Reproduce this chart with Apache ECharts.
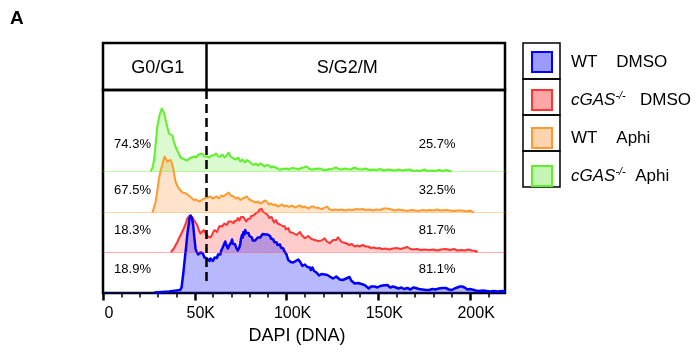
<!DOCTYPE html>
<html><head><meta charset="utf-8">
<script src="https://cdn.jsdelivr.net/npm/echarts@6/dist/echarts.min.js"></script>
<style>html,body{margin:0;padding:0;background:#fff}#c{width:700px;height:356px}</style>
</head><body><div id="c"></div>
<script>
const FONT = '"Liberation Sans", Arial, Helvetica, sans-serif';

// ---- data ----
const xMajorTicks = [0, 50, 100, 150, 200];           // K
const xMinorTicks = [10,20,30,40,60,70,80,90,110,120,130,140,160,170,180,190,210];
const gateK = 56.5;
const phaseLabels = ['G0/G1', 'S/G2/M'];
const phaseLabelX = [29.8, 133];
const seriesNames = ['WT DMSO', 'cGAS-/- DMSO', 'WT Aphi', 'cGAS-/- Aphi'];
const g1Pct = ['18.9%', '18.3%', '67.5%', '74.3%'];
const sPct  = ['81.1%', '81.7%', '32.5%', '25.7%'];
const pctLabelX = [16.1, 182];

const wtDmso = [[28,0],[32,0.5],[36,1],[38,1.5],[40,2],[42,2.5],[42.8,5],[43.2,11],[43.8,20],[44.4,31],[45.2,44],[45.9,57.5],[46.6,67],[47.1,74],[47.7,77],[48,77.5],[48.5,74],[49.1,67.5],[49.7,56],[50.4,44],[50.9,41],[51.3,42],[51.8,38],[52.2,39.5],[52.7,37],[53.1,40],[53.6,38],[54,42],[54.4,39],[54.9,37],[55.3,35],[55.8,36],[56.2,33],[56.7,34],[57.1,32],[57.6,33.5],[58,31.5],[58.5,34],[59,32],[59.4,33],[59.9,31.5],[60.3,33],[60.8,35],[61.2,33.5],[61.7,36],[62.1,34.5],[62.6,38],[63,36.5],[63.5,39.5],[63.9,38],[64.4,42],[64.8,40],[65.2,45],[65.7,47],[66.1,44.5],[66.6,51],[67,48.5],[67.5,47],[68,44],[68.4,45],[68.9,47.5],[69.3,46],[69.8,50],[70.3,53],[70.7,49],[71.1,51],[71.6,47],[72,48],[72.5,45],[72.9,44],[73.4,42],[73.8,41.5],[74.3,45],[74.8,49],[75.2,54],[75.7,57.5],[76.1,55],[76.5,60.5],[77,58],[77.5,62.5],[77.9,59.5],[78.4,61],[78.8,58],[79.3,59.5],[79.8,56.5],[80.2,57],[80.7,54.5],[81.1,55],[81.6,52],[82,53],[82.5,50.5],[82.9,52],[83.4,54],[83.8,52.5],[84.3,55],[84.7,54],[85.2,56],[85.6,55],[86.1,57],[86.5,56],[87,58.5],[87.4,57],[87.9,59],[88.3,58],[88.8,60],[89.2,59],[89.7,58],[90.1,58.5],[90.6,56],[91,56.5],[91.5,54],[91.9,55],[92.4,52],[92.8,53],[93.3,50.5],[93.7,51.5],[94.2,49],[94.6,50],[95,47.5],[95.5,48.5],[96,46.5],[96.4,48],[96.9,45],[97.3,45.5],[97.8,43],[98.2,44],[98.7,41.5],[99.1,43],[99.6,40],[100,38],[100.9,32.5],[101.4,34],[101.8,33],[102.3,30.5],[102.8,31.5],[103.2,29],[103.6,30],[104.1,28],[104.5,29],[105,31.5],[105.4,31],[105.9,33.5],[106.4,33],[106.8,31],[107.3,32.5],[107.8,29.5],[108.2,28],[108.6,26.5],[109,26],[109.5,28.5],[110,28],[110.4,26],[110.9,27],[111.3,25.5],[111.8,27.5],[112.2,24.5],[112.7,25],[113.2,22.5],[113.6,23],[114.1,25],[114.5,24],[115,21.5],[115.4,22],[115.9,20.5],[116.3,20],[116.8,18.5],[117.2,19],[117.7,17],[118.1,18],[119,18.5],[119.9,17.5],[120.8,18],[121.3,20],[121.7,19],[122.2,17.5],[122.6,19],[123.1,16.5],[123.5,16],[124.4,15],[125.3,14],[126.2,15],[127.1,16],[128,15.5],[129,13],[130,13.5],[130.7,12.5],[131.5,13],[132.5,14],[133.4,15.5],[134.3,15.5],[135.2,12],[136.2,10],[137.1,9],[138,10.5],[139,9.5],[139.8,10.5],[140.8,8.5],[141.5,7.5],[142.5,7.5],[143.4,6],[144.8,4],[146,6],[146.8,7.5],[148,6],[149.5,5],[151,6.5],[152.5,7],[153.5,5.5],[154.9,7.5],[156.5,5],[158,6],[159.6,5],[161,4],[162.5,5],[164,3.5],[165.8,4.5],[167.5,3],[169,5],[170.5,4.5],[172,3.5],[174,3],[176,2.5],[177.7,2.5],[179.5,3.5],[181,3],[183,4],[185,4.5],[186.7,4.5],[188.5,3],[190,2.5],[191.5,4],[193,5],[194.5,6],[195.6,6],[197,5],[198.5,3],[200,3.5],[201,2.5],[203,2],[205,1.5],[207,2],[209,1.5],[211,1],[213,1.5],[215,1],[217.2,1.5],[219,1]];

const cgasDmso = [[37,0],[38.6,3.5],[40.5,10],[42.3,17],[44,23.5],[45,28],[45.9,33.5],[47,36],[47.7,37],[48.6,35],[49.5,32],[50.4,30],[51.3,27],[52.2,22],[53.1,18.5],[54,20],[54.9,22],[55.8,19],[56.7,17],[57.2,15.5],[57.6,16],[58.1,13.5],[58.5,14.5],[59,15.5],[59.4,17],[59.9,19.5],[60.3,20],[60.8,22],[61.2,20.5],[61.7,21.5],[62.1,20],[62.6,22.5],[63,23.5],[63.5,26],[63.9,24.5],[64.4,24],[64.8,25.5],[65.3,27.5],[65.7,26.5],[66.2,28.5],[66.6,27.5],[67.1,29],[67.5,27],[68,28.5],[68.4,30.5],[68.9,32],[69.3,30],[69.8,30.5],[70.3,28.5],[70.7,30],[71.1,28.7],[71.6,31],[72,30.5],[72.5,32.5],[72.9,31.5],[73.4,34],[73.8,33],[74.3,31.5],[74.8,32.5],[75.2,35],[75.7,33.5],[76.1,36],[76.5,35],[77,33],[77.5,33.5],[78,30.5],[78.4,31.5],[78.9,33],[79.3,32],[79.8,34.5],[80.2,33.5],[80.7,36],[81.1,35],[81.6,37.5],[82,36.5],[82.5,35],[82.9,37],[83.4,39],[83.8,38],[84.3,41],[84.7,40],[85.2,42.5],[85.6,41.5],[86.1,44],[86.5,43],[87,40.5],[87.4,41.5],[87.9,38.5],[88.3,39],[88.8,37.5],[89.2,39.5],[89.7,37],[90.1,36],[90.6,34],[91,34],[91.5,36],[91.9,35],[92.4,32.5],[92.8,31.5],[93.3,29.5],[93.7,30.5],[94.2,32],[94.6,31],[95.1,28.5],[95.5,28],[96,26.5],[96.4,27.5],[96.9,29],[97.3,28],[97.8,26],[98.2,26.5],[98.7,24.5],[99.1,25.5],[99.6,22.5],[100,23.5],[100.9,24],[101.8,20],[102.8,21],[103.6,19],[104.5,18.7],[105.4,17],[106.4,19],[107.3,20],[108.2,17],[109.1,15],[110,13.7],[110.9,15],[111.8,16],[112.7,15],[113.6,13],[114.5,12.5],[115.4,12],[116.3,13],[117.2,11],[118.1,10],[119,11.5],[119.9,12.5],[120.8,13.7],[121.7,11],[122.6,9.5],[123.5,8.7],[124.4,10],[125.3,12],[126.2,10],[127.1,12],[128,14.7],[129,13],[130,10],[131,11],[132,9],[133,8.5],[134.3,7],[135.5,8],[137.1,5.5],[138.5,6.5],[139.8,5.5],[141.5,7],[143,5.5],[144.3,5.5],[146,4],[147.5,4.5],[149,3.5],[150.5,4],[152,3],[154,3.5],[156,2.5],[158,3.5],[160,4],[162,3],[164,4],[165.8,5],[167.5,3],[169,2.5],[171,3],[173,2],[175,2.5],[177.7,2],[180,2.5],[182,1.5],[184,2.5],[186.7,3],[189,2],[191.2,3],[193,1.5],[195,2],[197,1.5],[199,2.5],[201,1.5],[203,1],[204,0]];

const wtAphi = [[27,0],[27.5,2],[28.7,11],[29.6,22],[30.5,34],[31.4,42],[32.3,47.5],[33,53],[33.6,56],[34.1,57],[35,51],[35.9,50],[36.8,52.5],[37.4,50],[38.3,44],[39,36],[39.5,31],[40.4,27],[41.3,24],[42.3,22],[43.3,20],[44.3,21],[45.3,19],[46.7,17],[47.9,15],[49.5,12.5],[50.8,13],[52.2,11],[53.5,12],[55,14],[55.8,13],[57,15],[58.5,16],[59.7,14],[60.9,15],[62.1,16],[63.3,14],[64.5,17],[65.7,16],[66.9,18],[68.4,20],[69.6,17],[71.1,16],[72.4,14],[73.6,15],[74.8,12.5],[76,14],[77.2,15],[78.4,16],[79.6,13],[80.8,12],[82,11],[83.2,10],[84.4,11],[85.6,9],[86.8,10],[88,12],[89.2,11],[90.4,8],[91.6,9],[92.8,7.5],[94,8],[95.2,6],[96.4,7],[97.6,8],[98.8,6],[100.1,7],[101.4,5.5],[102.6,7],[103.6,6],[105,5],[106.2,6.5],[107.3,7],[108.6,5],[109.8,6],[110.9,5],[112.2,4],[113.4,6],[114.5,6],[115.8,4.5],[117,5],[118.1,4],[119.4,3.5],[120.6,4.5],[122,6],[123.5,3],[125,2.5],[126.5,3],[128,2.5],[130,3],[132,2],[134,3],[136,2.5],[138,3.5],[140,3],[141.5,3.5],[143,2.5],[145,3],[147,2],[149,3],[151,2.5],[153,4],[155,4],[157,3],[159,2],[161,3],[163,2.5],[165.8,1.5],[168,2.5],[170,2],[172,1.5],[174,2.5],[176,2],[177.7,2.5],[180,2],[182,3],[184,2],[186.7,2.5],[189,2],[191,1.5],[193,2],[195.6,2],[198,1],[200,2],[201,1],[202,0]];

const cgasAphi = [[26,0],[27,4],[27.8,11.5],[28.7,28],[29.6,45],[30.5,54],[31.4,60],[32,63],[32.7,64],[33.4,58],[34.1,51.5],[35,45],[35.9,38],[36.8,39],[37.8,36],[38.6,30],[39.5,25],[40.4,21],[41.3,18],[42.2,14],[43.2,13],[44.5,12],[45.9,11],[47,13],[48,12],[49.5,15],[50.6,14],[52,17],[53,16],[54,18],[55.2,15],[56.7,15],[57.8,14],[59,16],[60.3,16],[61.6,18],[62.8,15],[63.9,15],[65,17],[66.2,14],[67.4,16],[68.4,19],[69.5,15],[70.3,16],[71.1,13],[72.4,12],[73.6,14],[74.8,10],[76,12],[77.2,9],[78.4,11.5],[79.6,10],[80.8,8],[82,6.5],[83.2,8],[84.4,6],[85.6,8],[86.8,7],[88,5],[89.2,6.5],[90.4,6],[91.6,4],[92.8,5],[94,4],[95.2,3],[96.4,1.5],[97.6,3],[98.8,2.5],[100.1,3],[101.4,2],[102.6,3.5],[103.6,2],[105,3],[106.5,2],[108,3.5],[109.5,4],[110.9,5],[112.2,3],[113.4,2],[114.5,2],[115.8,3],[117,2.5],[118.1,3],[119.4,2],[120.6,1.5],[121.7,1.5],[123,2.5],[124.5,2],[125.8,3.5],[127.1,4],[128.4,2.5],[130,2],[131.5,3],[133,2.5],[135,2],[137,4],[139,2.5],[141,2],[143,3],[145,1.5],[147,2],[149,1.5],[151,2.5],[153,1],[155,2],[157,1.5],[159,1],[161,2],[163,1],[165,1.5],[167,2],[169,0.5],[171,1],[173,0.5],[175,2],[177,0.5],[179,1],[181,0.5],[183,1.5],[185,0.5],[187,1.5],[189,0.5],[190,0]];

const dataSets = [wtDmso, cgasDmso, wtAphi, cgasAphi];

// ---- styles / layout ----
const styles = [
  { line: '#0000ff', fill: 'rgba(30,30,255,0.45)', legendFill: '#9a9aff', width: 2.5 },
  { line: '#ff3535', fill: 'rgba(255,40,40,0.35)', legendFill: '#ffa6a6', width: 2 },
  { line: '#ff9a30', fill: 'rgba(255,150,60,0.38)', legendFill: '#ffd3ad', width: 2 },
  { line: '#5ef02a', fill: 'rgba(110,235,60,0.35)', legendFill: '#c6f5b3', width: 2 }
];
const X_MIN = 0, X_MAX = 219;
const LEFT = 103, RIGHT = 195;
const HEAD_TOP = 43, PLOT_TOP = 90, PLOT_BOTTOM = 293;
const PLOT_H = PLOT_BOTTOM - PLOT_TOP;
const layout = [
  { basePx: 292.5, lift: 23 },
  { basePx: 252, lift: 21.5 },
  { basePx: 212.5, lift: 22.5 },
  { basePx: 171.5, lift: 27 }
];
const DASH_BOTTOM_PX = 285;

const legendLabels = {
  'WT DMSO': '{n|WT    DMSO}',
  'cGAS-/- DMSO': '{i|cGAS}{s|-/-}{n|   DMSO}',
  'WT Aphi': '{n|WT    Aphi}',
  'cGAS-/- Aphi': '{i|cGAS}{s|-/-}{n|  Aphi}'
};

const grids = [{ left: LEFT, right: RIGHT, top: HEAD_TOP, height: PLOT_TOP - HEAD_TOP, show: true, borderColor: '#000', borderWidth: 2.5, backgroundColor: 'transparent' }];
const xAxes = [{ gridIndex: 0, type: 'value', min: X_MIN, max: X_MAX, show: false }];
const yAxes = [{ gridIndex: 0, type: 'value', min: 0, max: 1, show: false }];
for (let i = 0; i < 4; i++) {
  grids.push({ left: LEFT, right: RIGHT, top: PLOT_TOP, height: PLOT_H, show: i === 3, borderColor: '#000', borderWidth: 2.5, backgroundColor: 'transparent' });
  const minV = -(PLOT_BOTTOM - layout[i].basePx);
  yAxes.push({ gridIndex: i + 1, type: 'value', min: minV, max: minV + PLOT_H, show: false });
  if (i === 0) {
    xAxes.push({
      gridIndex: 1, type: 'value', min: X_MIN, max: X_MAX, position: 'bottom',
      axisLine: { show: true, lineStyle: { color: '#000', width: 2 } },
      axisTick: { show: true, length: 8, lineStyle: { color: '#000', width: 2.5 }, customValues: xMajorTicks },
      axisLabel: { show: true, color: '#000', fontSize: 16, fontFamily: FONT, margin: 13, padding: [0, 0, 0, 12],
        customValues: xMajorTicks, formatter: v => v === 0 ? '0' : v + 'K' },
      splitLine: { show: false },
      name: 'DAPI (DNA)', nameLocation: 'middle', nameGap: 34,
      nameTextStyle: { color: '#000', fontSize: 18, fontFamily: FONT, padding: [0, 14, 0, 0] }
    });
  } else {
    xAxes.push({ gridIndex: i + 1, type: 'value', min: X_MIN, max: X_MAX, show: false });
  }
}
// minor tick axis on the bottom grid
xAxes.push({
  gridIndex: 1, type: 'value', min: X_MIN, max: X_MAX, position: 'bottom',
  axisLine: { show: false },
  axisTick: { show: true, length: 4.5, lineStyle: { color: '#000', width: 1.5 }, customValues: xMinorTicks },
  axisLabel: { show: false }, splitLine: { show: false }
});

const series = [];
// header labels + divider
series.push({
  type: 'scatter', xAxisIndex: 0, yAxisIndex: 0, symbol: 'rect', symbolSize: 1,
  itemStyle: { color: 'transparent', opacity: 1 }, silent: true,
  data: phaseLabelX.map((x, k) => ({ value: [x, 0.47], name: phaseLabels[k] })),
  label: { show: true, position: 'inside', formatter: '{b}', color: '#000', opacity: 1, fontSize: 18, fontFamily: FONT, textBorderWidth: 0 },
  markLine: { silent: true, symbol: ['none', 'none'], label: { show: false },
    lineStyle: { color: '#000', width: 2.5, type: 'solid', opacity: 1 }, data: [{ xAxis: gateK }] }
});

for (let i = 3; i >= 0; i--) {
  const st = styles[i], L = layout[i];
  const minV = -(PLOT_BOTTOM - L.basePx);
  const ml = [{ yAxis: 0, lineStyle: { color: st.line, width: 1, opacity: 0.4, type: 'solid' } }];
  if (i === 0) {
    ml.push([
      { coord: [gateK, minV + PLOT_H], lineStyle: { color: '#000', width: 2.5, type: [9, 5], opacity: 1 } },
      { coord: [gateK, minV + (PLOT_BOTTOM - DASH_BOTTOM_PX)] }
    ]);
  }
  series.push({
    name: seriesNames[i], type: 'line', xAxisIndex: i + 1, yAxisIndex: i + 1,
    data: dataSets[i], symbol: 'none', showSymbol: false, clip: false, silent: true,
    lineStyle: { color: st.line, width: st.width, join: 'round' },
    itemStyle: { color: st.line },
    areaStyle: { color: st.fill },
    markLine: { silent: true, symbol: ['none', 'none'], label: { show: false }, data: ml },
    markPoint: {
      silent: true, symbol: 'rect', symbolSize: 1, itemStyle: { color: 'transparent', opacity: 1 },
      label: { show: true, position: 'inside', formatter: '{b}', color: '#000', fontSize: 13, fontFamily: FONT },
      data: [
        { coord: [pctLabelX[0], L.lift], name: g1Pct[i] },
        { coord: [pctLabelX[1], L.lift], name: sPct[i] }
      ]
    }
  });
}

const option = {
  animation: false,
  backgroundColor: '#fff',
  title: { text: 'A', left: 10, top: 9, padding: 0, textStyle: { fontSize: 19, fontWeight: 'bold', color: '#000', fontFamily: FONT } },
  grid: grids, xAxis: xAxes, yAxis: yAxes,
  legend: {
    orient: 'vertical', left: 531, top: 51, itemWidth: 20, itemHeight: 20, itemGap: 16,
    icon: 'rect', selectedMode: false, padding: 0,
    data: seriesNames.map((n, i) => ({ name: n, icon: 'rect',
      itemStyle: { color: styles[i].legendFill, borderColor: styles[i].line, borderWidth: 2 } })),
    formatter: n => legendLabels[n],
    textStyle: {
      color: '#000', fontSize: 17, fontFamily: FONT, padding: [0, 0, 0, 14],
      rich: {
        n: { fontSize: 17, fontFamily: FONT, color: '#000', lineHeight: 20 },
        i: { fontSize: 17, fontFamily: FONT, color: '#000', fontStyle: 'italic', lineHeight: 20 },
        s: { fontSize: 11, fontFamily: FONT, color: '#000', fontStyle: 'italic', verticalAlign: 'top', lineHeight: 12 }
      }
    }
  },
  graphic: [0, 1, 2, 3].map(k => ({
    type: 'rect', silent: true,
    shape: { x: 523, y: 43 + k * 36, width: 37, height: 36 },
    style: { fill: 'none', stroke: '#000', lineWidth: 1.5 }
  })),
  series
};
const chart = echarts.init(document.getElementById('c'), null, { renderer: 'canvas' });
chart.setOption(option);
</script>
</body></html>
